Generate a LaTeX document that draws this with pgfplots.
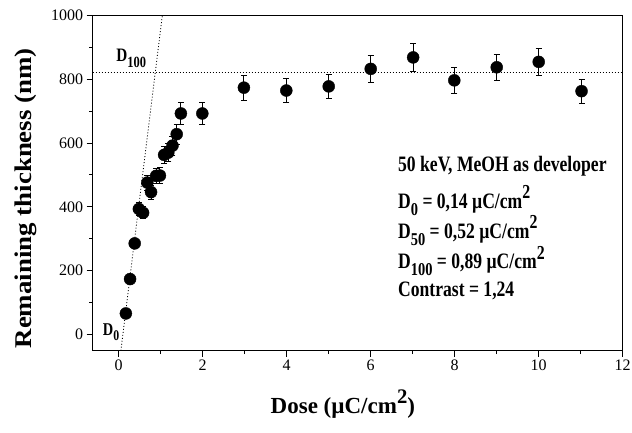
\documentclass[border=0pt]{standalone}
\usepackage{graphicx}
\usepackage{pgfplots}
\usepackage{pgfplotstable}
\pgfplotsset{compat=1.18}
\usepackage{fontspec}
\setmainfont{Liberation Serif}

% sub/superscripts and condensed text like the source figure
\newcommand\lo[1]{\raisebox{-0.32em}{\scalebox{0.82}{#1}}}
\newcommand\hi[1]{\raisebox{0.42em}{\scalebox{0.9}{#1}}}
\newcommand\sq[1]{\scalebox{0.8}[1]{#1}}

\pgfplotstableread{
dose thick err
0.17 65 3
0.27 173 9
0.38 285 14
0.48 393 20
0.58 381 19
0.68 476 24
0.77 446 22
0.89 497 25
0.98 498 25
1.08 563 28
1.18 570 29
1.28 592 30
1.38 628 31
1.48 693 35
1.99 693 35
2.98 774 39
3.99 765 38
5.00 778 39
6.00 833 42
7.01 869 43
7.99 797 40
9.00 838 42
10.00 855 43
11.02 763 38
}\thick

\begin{document}
\begin{tikzpicture}
\begin{axis}[
  scale only axis,
  width=530pt, height=335pt,
  xmin=-0.62, xmax=12, ymin=-52, ymax=1000,
  axis line style={line width=1.1pt},
  xtick={0,2,...,12}, ytick={0,200,...,1000},
  minor x tick num=1, minor y tick num=1,
  tick align=outside, tick pos=left,
  major tick length=6pt, minor tick length=3.5pt,
  every tick/.style={black, line width=1pt},
  tick label style={font=\fontsize{16}{16}\selectfont},
  /pgf/number format/assume math mode=true,
  /pgf/number format/1000 sep={},
  xlabel={Dose (µC/cm\hi{2})},
  ylabel={\scalebox{1.12}[1]{Remaining thickness (nm)}},
  xlabel style={at={(axis description cs:0.472,-0.187)}, anchor=base,
    font=\bfseries\fontsize{23}{23}\selectfont},
  ylabel style={at={(axis description cs:-0.1258,0.455)}, anchor=center,
    font=\bfseries\fontsize{24}{24}\selectfont},
]
\addplot[black, line width=0.8pt, dash pattern=on 1pt off 2pt] coordinates {(-0.62,822) (12,822)};
\addplot[black, line width=0.8pt, dash pattern=on 1pt off 2pt] coordinates {(0.051,-52) (1.037,1000)};

\addplot[only marks, mark=*, mark size=6pt, mark options={fill=black, draw=black},
  error bars/.cd, y dir=both, y explicit,
  error bar style={line width=0.8pt, black},
  error mark options={rotate=90, mark size=3pt, line width=0.8pt, black}]
  table[x=dose, y=thick, y error=err] {\thick};

\node[anchor=base west, inner sep=0, font=\bfseries\fontsize{19}{19}\selectfont]
  at (axis cs:-0.06,856) {\sq{D\lo{100}}};
\node[anchor=base west, inner sep=0, font=\bfseries\fontsize{18}{18}\selectfont]
  at (axis cs:-0.38,-3) {\sq{D\lo{0}}};

\begin{scope}[every node/.style={anchor=base west, inner sep=0,
    font=\bfseries\fontsize{22}{22}\selectfont}]
\node at (axis description cs:0.576,0.535) {\sq{50 keV, MeOH as developer}};
\node at (axis description cs:0.576,0.4255) {\sq{D\lo{0} = 0,14 µC/cm\hi{2}}};
\node at (axis description cs:0.576,0.336) {\sq{D\lo{50} = 0,52 µC/cm\hi{2}}};
\node at (axis description cs:0.576,0.246) {\sq{D\lo{100} = 0,89 µC/cm\hi{2}}};
\node at (axis description cs:0.576,0.161) {\sq{Contrast = 1,24}};
\end{scope}
\end{axis}
\pgfresetboundingbox
\path[use as bounding box] (current axis.south west) ++(-92.7pt,-81.3pt) rectangle ++(632pt,432pt);
\end{tikzpicture}
\end{document}
